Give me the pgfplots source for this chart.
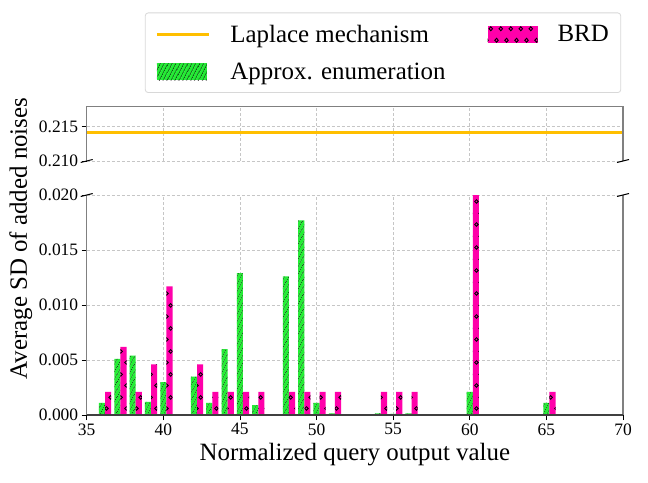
\documentclass[border=0pt]{standalone}
\usepackage{fontspec}
\setmainfont{Liberation Serif}
\usepackage{pgfplots}
\pgfplotsset{compat=1.18}
\usetikzlibrary{patterns,patterns.meta}
\definecolor{apgreen}{HTML}{22EE33}
\definecolor{brdpink}{HTML}{FF00AA}
\definecolor{laplace}{HTML}{FFBF00}
\definecolor{spinegray}{HTML}{808080}
\definecolor{legendgray}{HTML}{D8D8D8}

\pgfdeclarepattern{
  name=brdcircles, type=uncolored,
  bottom left={\pgfpoint{0bp}{0bp}},
  top right={\pgfpoint{9.5bp}{23bp}},
  tile size={\pgfpoint{9.5bp}{23bp}},
  code={\pgfsetlinewidth{0.9bp}
    \pgfpathcircle{\pgfpoint{2.6bp}{5.75bp}}{1.9bp}
    \pgfpathcircle{\pgfpoint{7.0bp}{17.25bp}}{1.9bp}
    \pgfusepath{stroke}}
}

\pgfplotstableread{
x y
36 0.0011
37 0.0051
38 0.0054
39 0.0012
40 0.0030
42 0.0035
43 0.0011
44 0.0060
45 0.0129
46 0.0009
48 0.0126
49 0.0177
50 0.0011
51 0.00015
54 0.00015
55 0.0001
56 0.00015
60 0.0021
65 0.0011
}\approxdata

\pgfplotstableread{
x y
36 0.0021
37 0.0062
38 0.0021
39 0.0046
40 0.0117
42 0.0046
43 0.0021
44 0.0021
45 0.0021
46 0.0021
48 0.0021
49 0.0021
50 0.0021
51 0.0021
54 0.0021
55 0.0021
56 0.0021
60 0.0215
65 0.0021
}\brddata

\pgfplotsset{
  common/.style={
    scale only axis, width=536.3bp,
    xmin=35, xmax=70, xtick={35,40,...,70},
    axis line style={draw=none},
    grid=major,
    major grid style={dash pattern=on 3bp off 2bp, color=gray!45, line width=0.6bp},
    tick style={black, line width=0.8bp},
    major tick length=5bp, tick align=outside,
    ytick pos=left, xtick pos=bottom,
    tick label style={font=\fontsize{17.5}{20}\selectfont},
    scaled y ticks=false, scaled x ticks=false,
    /pgf/number format/assume math mode=true,
    yticklabel style={/pgf/number format/fixed, /pgf/number format/fixed zerofill, /pgf/number format/precision=3},
  },
}

\begin{document}
\begin{tikzpicture}
\useasboundingbox (-86.7bp,-68bp) rectangle (561.3bp,415bp);

\begin{axis}[common, name=bot, at={(0,0)}, anchor=south west,
  height=220bp, ymin=0, ymax=0.020,
  ytick={0,0.005,0.010,0.015,0.020},
  xlabel={Normalized query output value},
  xlabel style={at={(axis description cs:0.5,0)}, anchor=base, yshift=-45bp,
    font=\fontsize{25}{30}\selectfont},
]
\addplot[ybar, bar width=0.4, bar shift=0, fill=apgreen, draw=none,
  postaction={pattern={Lines[angle=62,distance=3.6bp,line width=0.8bp]}, pattern color=black}]
  table[x=x,y=y] {\approxdata};
\addplot[ybar, bar width=0.4, bar shift=0.4, fill=brdpink, draw=none,
  postaction={pattern=brdcircles, pattern color=black}]
  table[x=x,y=y] {\brddata};
\end{axis}

\begin{axis}[common, name=top, at={(0,254bp)}, anchor=south west,
  height=54.3bp, ymin=0.210, ymax=0.2179,
  ytick={0.210,0.215},
  xticklabels={}, x tick style={draw=none},
  legend columns=2,
  legend cell align=left,
  legend style={at={(0.5525,1)}, yshift=13.7bp, anchor=south,
    draw=legendgray, rounded corners=3bp, line width=0.8bp,
    font=\fontsize{25}{30}\selectfont,
    inner xsep=10bp, inner ysep=10bp,
    row sep=15bp,
    /tikz/every odd column/.append style={column sep=18bp},
    /tikz/every even column/.append style={column sep=40bp},
  },
]
\addplot[laplace, line width=3.2bp,
  legend image code/.code={\draw[sharp corners, laplace, line width=3.2bp] (0bp,0bp) -- (52bp,0bp);}]
  coordinates {(35,0.2141) (70,0.2141)};
\addlegendentry{Laplace mechanism}
\addlegendimage{legend image code/.code={
  \fill[sharp corners, draw=none, brdpink] (0bp,-8.5bp) rectangle (50bp,8.5bp);
  \fill[sharp corners, draw=none, pattern=brdcircles, pattern color=black] (0bp,-8.5bp) rectangle (50bp,8.5bp);}}
\addlegendentry{BRD}
\addlegendimage{legend image code/.code={
  \fill[sharp corners, draw=none, apgreen] (0bp,-8.5bp) rectangle (50bp,8.5bp);
  \fill[sharp corners, draw=none, pattern={Lines[angle=62,distance=3.6bp,line width=0.8bp]}, pattern color=black] (0bp,-8.5bp) rectangle (50bp,8.5bp);}}
\addlegendentry{Approx. enumeration}
\end{axis}

% spines
\draw[spinegray, line width=1.2bp] (bot.south west) -- (bot.north west);
\draw[spinegray, line width=1.2bp] (bot.south east) -- (bot.north east);
\draw[black!75, line width=1.2bp] (bot.south west) -- (bot.south east);
\draw[spinegray, line width=1.2bp] (top.south west) -- (top.north west) -- (top.north east) -- (top.south east);
% break marks
\foreach \a in {top.south west, top.south east, bot.north west, bot.north east}
  \draw[black, line width=1bp] (\a) ++(-6bp,-1.5bp) -- ++(12bp,3bp);

\node[rotate=90, anchor=base, font=\fontsize{25}{30}\selectfont] at (-59.7bp,176.5bp) {Average SD of added noises};
\end{tikzpicture}
\end{document}
